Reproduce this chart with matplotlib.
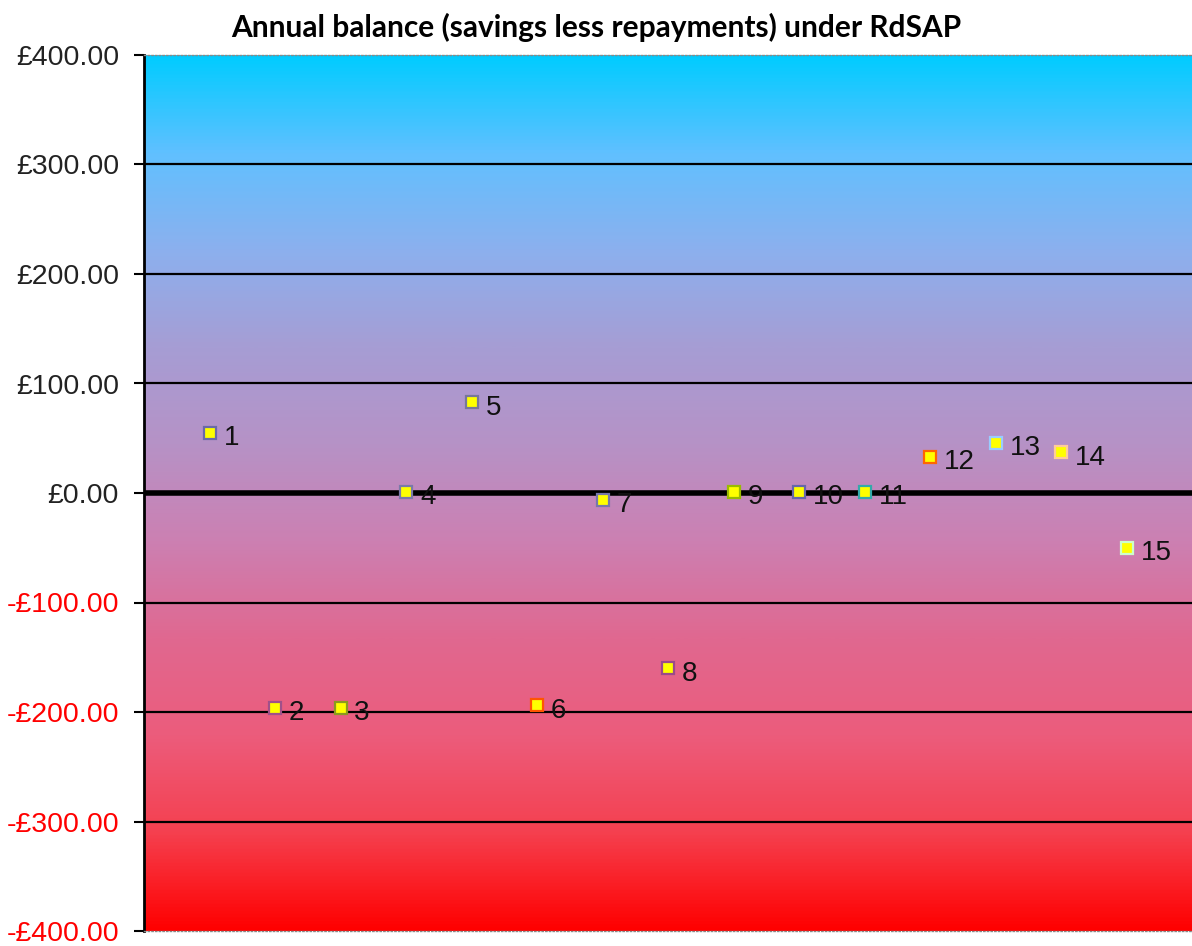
import numpy as np
import matplotlib
matplotlib.use("Agg")
import matplotlib.pyplot as plt
from matplotlib.colors import LinearSegmentedColormap
from matplotlib.ticker import FuncFormatter

# data
points = list(range(1, 16))
balance = [55, -196, -196, 1, 83, -194, -6, -160, 1, 1, 1, 33, 46, 37, -50]
edge_cols = ["#6a6aa8", "#a0508a", "#8a9a20", "#7a7aa8", "#777799",
             "#ff5500", "#7777aa", "#9a4a8a", "#99bb00", "#6666aa",
             "#33aaaa", "#ff6600", "#99ccff", "#ffcc99", "#ccffcc"]
yticks = [-400, -300, -200, -100, 0, 100, 200, 300, 400]

# background gradient, bottom -> top
grad_cols = ["#ff0000", "#f5404f", "#ec5c7c", "#e06890", "#cc80b2",
             "#b692c6", "#a69dd4", "#8cb0ee", "#60c0ff", "#00ccff"]

fig = plt.figure(figsize=(11.92, 9.46), dpi=100)
ax = fig.add_axes([144/1192, 15/946, 1048/1192, 876/946])

cmap = LinearSegmentedColormap.from_list("bg", grad_cols)
g = np.linspace(0, 1, 512).reshape(-1, 1)
ax.imshow(g, cmap=cmap, aspect="auto", origin="lower",
          extent=[0, 16, -400, 400], zorder=0)

for v in yticks[1:-1]:
    ax.axhline(v, color="black", lw=4 if v == 0 else 1.6, zorder=1)

for x, y, ec in zip(points, balance, edge_cols):
    ax.plot(x, y, "s", ms=9, mfc="#ffff00", mec=ec, mew=1.6, zorder=3)
    ax.annotate(str(x), (x, y), xytext=(10, -4), textcoords="offset points",
                va="center", ha="left", fontsize=20, family="Liberation Sans",
                color="#111111", zorder=4)

ax.set_xlim(0, 16)
ax.set_ylim(-400, 400)
ax.set_xticks([])
ax.set_yticks(yticks)
ax.yaxis.set_major_formatter(FuncFormatter(
    lambda v, p: ("-£%.2f" % abs(v)) if v < 0 else ("£%.2f" % v)))
for lab, v in zip(ax.get_yticklabels(), yticks):
    lab.set_color("red" if v < 0 else "#222222")
    lab.set_family("Liberation Sans")
    lab.set_fontsize(20.5)
ax.tick_params(axis="y", direction="out", length=7, width=1.5, pad=11)

ax.spines["left"].set_linewidth(2)
ax.spines["left"].set_color("black")
for s in ["top", "bottom", "right"]:
    ax.spines[s].set_color("#888888")
    ax.spines[s].set_linestyle(":")
    ax.spines[s].set_linewidth(1)
ax.spines["right"].set_visible(False)

fig.text(0.5, 0.971, "Annual balance (savings less repayments) under RdSAP",
         ha="center", va="center", fontsize=21.5, fontweight="bold",
         family="Lato")

fig.savefig("out.png", dpi=100)
